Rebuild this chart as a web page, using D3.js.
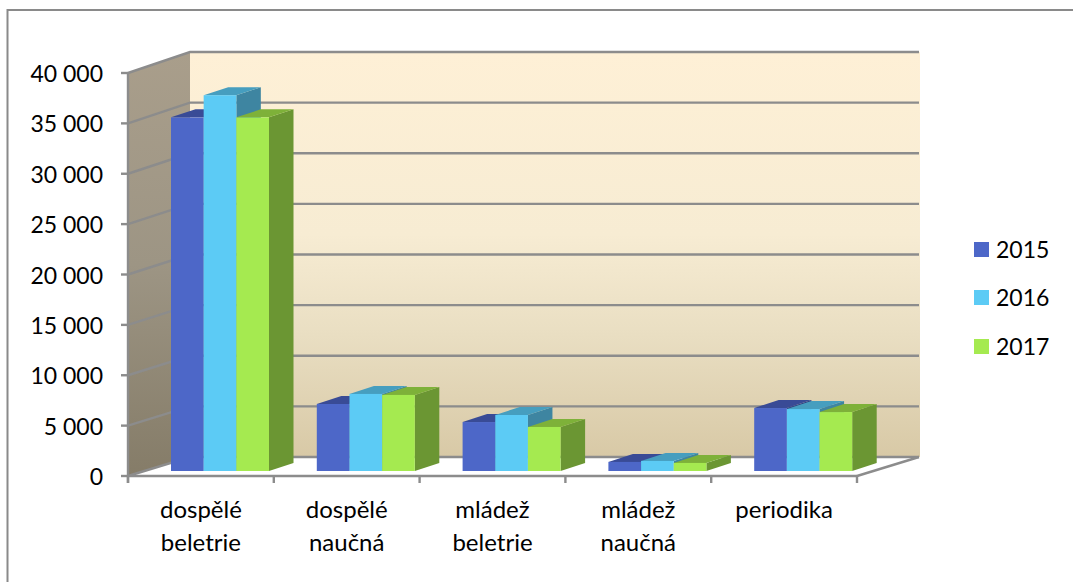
<!DOCTYPE html>
<html><head><meta charset="utf-8">
<script src="https://cdn.jsdelivr.net/npm/d3@7/dist/d3.min.js"></script>
<style>html,body{margin:0;padding:0;background:#fff}svg{display:block}text{font-family:Lato,"Open Sans",sans-serif;fill:#000}</style>
</head><body><svg id="c" width="1073" height="582"></svg>
<script>
const categories=[["dospělé","beletrie"],["dospělé","naučná"],["mládež","beletrie"],["mládež","naučná"],["periodika"]];
const years=["2015","2016","2017"];
const v2015=[35100,6650,4860,900,6250];
const v2016=[37300,7650,5560,1000,6150];
const v2017=[35100,7550,4370,800,5850];
const series=[v2015,v2016,v2017];
const frontColors=["#4d67c8","#5ccbf5","#a5ea50"];
const topColors=["#394b96","#469ebf","#7eb139"];
const sideColors=["#2f3f80","#3e85a1","#6b9633"];
const ticks=[0,5000,10000,15000,20000,25000,30000,35000,40000];

const svg=d3.select("#c");
const fmt=d=>d===0?"0":d3.format(",")(d).replace(",","\u00a0");
const y=d3.scaleLinear().domain([0,40000]).range([476,73]);
const yBack=d3.scaleLinear().domain([0,40000]).range([457,52]);
const x=d3.scaleBand().domain(d3.range(categories.length)).range([128,857]);
const xi=d3.scaleBand().domain(d3.range(3)).range([0,98]);
const wallDx=62;
const bar={dx:24.5,dy:-8,ox:43,base:471};
const h=v=>y(0)-y(v);
const defs=svg.append("defs");
function grad(id,stops){const g=defs.append("linearGradient").attr("id",id).attr("x1",0).attr("y1",0).attr("x2",0).attr("y2",1);
 stops.forEach(s=>g.append("stop").attr("offset",s[0]).attr("stop-color",s[1]));}
grad("back",[[0,"#fef0d6"],[.45,"#f7ecd3"],[.7,"#e9dec2"],[1,"#d8c9a6"]]);
grad("left",[[0,"#a99e8b"],[.5,"#9d9584"],[1,"#857c68"]]);
// frame
svg.append("path").attr("d","M7.5,582V10H1073").attr("fill","none").attr("stroke","#8a8a8a").attr("stroke-width",2);
const pt=(a)=>a.map(p=>p.join(",")).join(" ");
const X0=x.range()[0],X1=x.range()[1];
// walls
svg.append("rect").attr("x",X0+wallDx).attr("y",yBack(40000)).attr("width",X1-X0+1).attr("height",yBack(0)-yBack(40000)).attr("fill","url(#back)");
svg.append("polygon").attr("points",pt([[X0,y(40000)],[X0+wallDx,yBack(40000)],[X0+wallDx,yBack(0)],[X0,y(0)]])).attr("fill","url(#left)");
// gridlines
const grid=svg.append("g").attr("fill","none").attr("stroke","#8c8c8c").attr("stroke-width",2.4);
ticks.forEach(t=>{grid.append("polyline").attr("points",pt([[X0,y(t)],[X0+wallDx,yBack(t)],[X1+wallDx,yBack(t)]]));});
grid.append("line").attr("x1",X1).attr("y1",y(0)).attr("x2",X1+wallDx).attr("y2",yBack(0));
// axes
const ax=svg.append("g").attr("fill","none").attr("stroke","#8c8c8c").attr("stroke-width",2.4);
ax.append("line").attr("x1",X0).attr("x2",X0).attr("y1",y(40000)-1).attr("y2",y(0)+7);
ax.append("line").attr("x1",X0).attr("x2",X1).attr("y1",y(0)).attr("y2",y(0));
ticks.forEach(t=>ax.append("line").attr("x1",X0-7).attr("x2",X0).attr("y1",y(t)).attr("y2",y(t)));
d3.range(categories.length+1).forEach(i=>{const tx=X0+i*x.step();ax.append("line").attr("x1",tx).attr("x2",tx).attr("y1",y(0)).attr("y2",y(0)+7);});
// bars
categories.forEach((c,i)=>{
 series.forEach((s,k)=>{
  const v=s[i],x0=x(i)+bar.ox+xi(k),w=xi.bandwidth(),yb=bar.base,yt=yb-h(v);
  const g=svg.append("g");
  g.append("polygon").attr("points",pt([[x0+w,yt],[x0+w+bar.dx,yt+bar.dy],[x0+w+bar.dx,yb+bar.dy],[x0+w,yb]])).attr("fill",sideColors[k]);
  g.append("polygon").attr("points",pt([[x0,yt],[x0+bar.dx,yt+bar.dy],[x0+w+bar.dx,yt+bar.dy],[x0+w,yt]])).attr("fill",topColors[k]);
  g.append("rect").attr("x",x0).attr("y",yt).attr("width",w).attr("height",yb-yt).attr("fill",frontColors[k]);
 });
});
// tick labels
ticks.forEach(t=>svg.append("text").attr("x",X0-25).attr("y",y(t)+9).attr("text-anchor","end").attr("font-size",23).text(fmt(t)));
categories.forEach((c,i)=>{c.forEach((l,j)=>svg.append("text").attr("x",x(i)+x.bandwidth()/2).attr("y",518+j*33).attr("text-anchor","middle").attr("font-size",24).text(l));});
// legend
const legY=[249.5,297.5,346.5];
years.forEach((l,k)=>{
 svg.append("rect").attr("x",974).attr("y",legY[k]-7.5).attr("width",15).attr("height",15).attr("fill",frontColors[k]);
 svg.append("text").attr("x",996).attr("y",legY[k]+8).attr("font-size",23).text(l);});
</script></body></html>
